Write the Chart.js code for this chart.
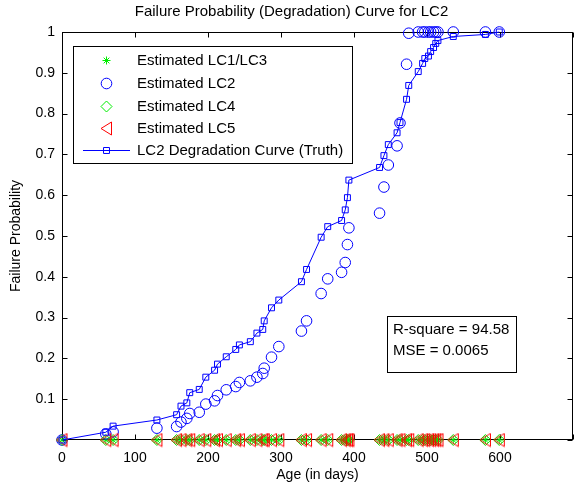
<!DOCTYPE html>
<html><head><meta charset="utf-8">
<script src="https://cdn.jsdelivr.net/npm/chart.js@4/dist/chart.umd.min.js"></script>
<style>html,body{margin:0;padding:0;overflow:hidden;background:#fff}</style>
</head><body>
<canvas id="c" width="583" height="487" style="width:583px;height:487px;display:block"></canvas>
<script>
// ---- data ----
const ages = [0, 60, 70, 130, 157, 163, 171, 175, 188, 197, 209, 213, 225, 238, 243, 258, 267, 275, 277, 287, 297,
  328, 335, 355, 364, 383, 388, 391, 393, 435, 441, 447, 459, 463, 472, 475, 488, 494, 497, 502, 505, 509, 512, 515, 536, 580, 599];
const truthProb = [0, 0.019, 0.034, 0.049, 0.062, 0.083, 0.091, 0.116, 0.124, 0.154, 0.171, 0.186, 0.204, 0.222, 0.233, 0.241, 0.262, 0.271, 0.292, 0.324, 0.343,
  0.388, 0.418, 0.497, 0.523, 0.538, 0.564, 0.594, 0.637, 0.668, 0.697, 0.724, 0.753, 0.778, 0.835, 0.869, 0.903, 0.923, 0.935, 0.941, 0.952, 0.962, 0.972, 0.979, 0.989, 0.994, 1.0];
const estLC2 = [0, 0.015, 0.020, 0.029, 0.033, 0.044, 0.053, 0.065, 0.068, 0.088, 0.096, 0.109, 0.123, 0.131, 0.141, 0.145, 0.154, 0.163, 0.176, 0.203, 0.229,
  0.267, 0.292, 0.359, 0.395, 0.411, 0.435, 0.479, 0.520, 0.556, 0.620, 0.674, 0.721, 0.777, 0.921, 0.997, 1, 1, 1, 1, 1, 1, 1, 1, 1, 1, 1];
const estLC1LC3 = [0,0,0,0,0,0,0,0,0,0,0,0,0,0,0,0,0,0,0,0,0,0,0,0,0,0,0,0,0,0,0,0,0,0,0,0,0,0,0,0,0,0,0,0,0,0,0];
const estLC4    = [0,0,0,0,0,0,0,0,0,0,0,0,0,0,0,0,0,0,0,0,0,0,0,0,0,0,0,0,0,0,0,0,0,0,0,0,0,0,0,0,0,0,0,0,0,0,0];
const estLC5    = [0,0,0,0,0,0,0,0,0,0,0,0,0,0,0,0,0,0,0,0,0,0,0,0,0,0,0,0,0,0,0,0,0,0,0,0,0,0,0,0,0,0,0,0,0,0,0];
const xTicks = [0, 100, 200, 300, 400, 500, 600, 700];
const yTicks = [0, 0.1, 0.2, 0.3, 0.4, 0.5, 0.6, 0.7, 0.8, 0.9, 1];
const xLabels = ['0', '100', '200', '300', '400', '500', '600', ''];
const yLabels = ['', '0.1', '0.2', '0.3', '0.4', '0.5', '0.6', '0.7', '0.8', '0.9', '1'];
const titleText = 'Failure Probability (Degradation) Curve for LC2';
const xTitle = 'Age (in days)';
const yTitle = 'Failure Probability';
const statsLines = ['R-square = 94.58', 'MSE = 0.0065'];

const FONT = "'Liberation Sans', Arial, Helvetica, sans-serif";
const BLUE = '#0000ff', GREEN = '#00ee00', RED = '#ff0000';
const pts = (ys) => ages.map((a, i) => ({x: a, y: ys[i]}));

// left-pointing triangle marker as an image (MATLAB '<')
function makeLeftTriangle(color) {
  const c = document.createElement('canvas');
  c.width = 13; c.height = 15;
  const g = c.getContext('2d');
  g.strokeStyle = color; g.lineWidth = 1;
  g.beginPath();
  g.moveTo(1, 7.5); g.lineTo(11.5, 1); g.lineTo(11.5, 14); g.closePath();
  g.stroke();
  return c;
}
const triLeft = makeLeftTriangle(RED);

const datasets = [
  {label: 'LC2 Degradation Curve (Truth)', data: pts(truthProb), showLine: true, borderColor: BLUE, borderWidth: 1,
   pointStyle: 'rect', pointRadius: 4.2, pointBorderColor: BLUE, pointBackgroundColor: 'rgba(0,0,0,0)', pointBorderWidth: 1, order: 0},
  {label: 'Estimated LC5', data: pts(estLC5), showLine: false, pointStyle: triLeft, pointRadius: 7,
   pointBorderColor: RED, pointBackgroundColor: 'rgba(0,0,0,0)', pointBorderWidth: 1, order: 1},
  {label: 'Estimated LC4', data: pts(estLC4), showLine: false, pointStyle: 'rectRot', pointRadius: 5.5,
   pointBorderColor: GREEN, pointBackgroundColor: 'rgba(0,0,0,0)', pointBorderWidth: 1, order: 2},
  {label: 'Estimated LC2', data: pts(estLC2), showLine: false, pointStyle: 'circle', pointRadius: 5.3,
   pointBorderColor: BLUE, pointBackgroundColor: 'rgba(0,0,0,0)', pointBorderWidth: 1, order: 3},
  {label: 'Estimated LC1/LC3', data: pts(estLC1LC3), showLine: false, pointStyle: 'star', pointRadius: 4,
   pointBorderColor: GREEN, pointBackgroundColor: 'rgba(0,0,0,0)', pointBorderWidth: 1, order: 4}
];
datasets.forEach(d => { d.clip = false; d.pointHoverRadius = d.pointRadius; });
const legendStyles = ['rect', 'tri', 'rectRot', 'circle', 'star'];

function drawMarker(ctx, style, x, y, r, color) {
  ctx.save();
  if (style === 'tri') { ctx.drawImage(triLeft, Math.round(x - triLeft.width / 2), Math.round(y - triLeft.height / 2)); ctx.restore(); return; }
  ctx.strokeStyle = color; ctx.lineWidth = 1; ctx.beginPath();
  if (style === 'circle') { ctx.arc(x, y, r, 0, Math.PI * 2); }
  else if (style === 'rect') { const s = r * Math.SQRT1_2; ctx.rect(x - s, y - s, 2 * s, 2 * s); }
  else if (style === 'rectRot') { ctx.moveTo(x - r, y); ctx.lineTo(x, y - r); ctx.lineTo(x + r, y); ctx.lineTo(x, y + r); ctx.closePath(); }
  else if (style === 'star') {
    ctx.moveTo(x - r, y); ctx.lineTo(x + r, y); ctx.moveTo(x, y - r); ctx.lineTo(x, y + r);
    const d = r * Math.SQRT1_2;
    ctx.moveTo(x - d, y - d); ctx.lineTo(x + d, y + d); ctx.moveTo(x - d, y + d); ctx.lineTo(x + d, y - d);
  }
  ctx.stroke(); ctx.restore();
}

const framePlugin = {
  id: 'frame',
  beforeDatasetsDraw(chart) {
    const {ctx, chartArea: a, scales: {x, y}} = chart;
    ctx.save();
    ctx.strokeStyle = '#000'; ctx.lineWidth = 1;
    const L = Math.round(a.left) + 0.5, R = Math.round(a.right) - 0.5, T = Math.round(a.top) + 0.5, B = Math.round(a.bottom) - 0.5;
    ctx.strokeRect(L, T, R - L, B - T);
    ctx.beginPath();
    const tl = 5;
    xTicks.forEach(v => { const px = Math.round(x.getPixelForValue(v)) + 0.5; ctx.moveTo(px, B); ctx.lineTo(px, B - tl); ctx.moveTo(px, T); ctx.lineTo(px, T + tl); });
    yTicks.forEach(v => { const py = Math.round(y.getPixelForValue(v)) + 0.5; ctx.moveTo(L, py); ctx.lineTo(L + tl, py); ctx.moveTo(R, py); ctx.lineTo(R - tl, py); });
    ctx.stroke();
    ctx.restore();
  },
  afterDraw(chart) {
    const ctx = chart.ctx;
    ctx.save();
    // legend box
    ctx.fillStyle = '#fff'; ctx.fillRect(73.5, 46.5, 279, 117);
    ctx.strokeStyle = '#000'; ctx.lineWidth = 1; ctx.strokeRect(73.5, 46.5, 279, 117);
    const entries = [{i: 4, y: 60}, {i: 3, y: 83}, {i: 2, y: 106}, {i: 1, y: 128}, {i: 0, y: 150, line: true}];
    ctx.font = '15px ' + FONT; ctx.textBaseline = 'middle'; ctx.textAlign = 'left';
    entries.forEach(e => {
      const d = datasets[e.i];
      if (e.line) { ctx.strokeStyle = d.borderColor; ctx.lineWidth = 1; ctx.beginPath(); ctx.moveTo(83, e.y + 0.5); ctx.lineTo(130, e.y + 0.5); ctx.stroke(); }
      drawMarker(ctx, legendStyles[e.i], 106.5, e.y + 0.5, d.pointRadius, d.pointBorderColor);
      ctx.fillStyle = '#000'; ctx.fillText(d.label, 137, e.y + 1);
    });
    // stats box
    ctx.fillStyle = '#fff'; ctx.fillRect(387.5, 316.5, 129, 56);
    ctx.strokeStyle = '#000'; ctx.strokeRect(387.5, 316.5, 129, 56);
    ctx.fillStyle = '#000';
    statsLines.forEach((t, i) => ctx.fillText(t, 393, 330 + i * 21));
    ctx.restore();
  }
};

new Chart(document.getElementById('c'), {
  type: 'scatter',
  data: {datasets},
  options: {
    responsive: false, animation: false, events: [],
    layout: {padding: 0},
    plugins: {
      legend: {display: false}, tooltip: {enabled: false},
      title: {display: true, text: titleText, color: '#000', font: {family: FONT, size: 15, weight: 'normal'}, padding: {top: 3, bottom: 11}}
    },
    scales: {
      x: {type: 'linear', min: 0, max: 700,
        afterBuildTicks: s => { s.ticks = xTicks.map(v => ({value: v})); },
        afterFit: s => { s.height = 47; },
        grid: {display: false, drawTicks: false}, border: {display: false},
        ticks: {color: '#000', font: {family: FONT, size: 14}, padding: 10, maxRotation: 0, autoSkip: false,
          callback: (v) => xLabels[xTicks.indexOf(v)] ?? ''},
        title: {display: true, text: xTitle, color: '#000', font: {family: FONT, size: 14}, padding: {top: 0, bottom: 3}}
      },
      y: {type: 'linear', min: 0, max: 1,
        afterBuildTicks: s => { s.ticks = yTicks.map(v => ({value: v})); },
        afterFit: s => { s.width = 62; },
        grid: {display: false, drawTicks: false}, border: {display: false},
        ticks: {color: '#000', font: {family: FONT, size: 14}, padding: 7, autoSkip: false,
          callback: (v) => { const i = yTicks.findIndex(t => Math.abs(t - v) < 1e-9); return i >= 0 ? yLabels[i] : ''; }},
        title: {display: true, text: yTitle, color: '#000', font: {family: FONT, size: 14}, padding: {top: 8, bottom: 0}}
      }
    }
  },
  plugins: [framePlugin]
});
</script>
</body></html>
